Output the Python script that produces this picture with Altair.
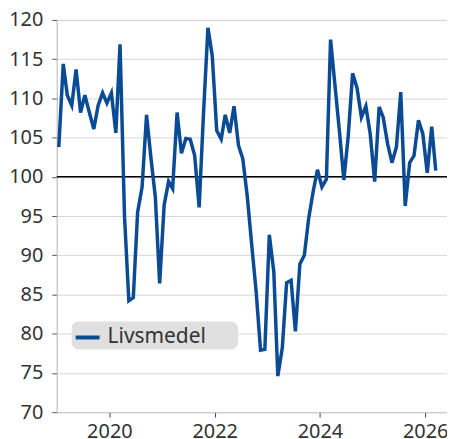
import altair as alt
import pandas as pd

# Monthly values, Jan 2019 .. Mar 2026
values = [
    103.8, 114.4, 110.4, 109.1, 113.7, 108.2, 110.4, 108.2, 106.1, 109.1, 110.7, 109.4,  # 2019
    110.7, 105.6, 116.9, 95.0, 84.2, 84.6, 95.5, 98.7, 107.9, 102.5, 97.4, 86.4,        # 2020
    96.4, 99.4, 98.5, 108.2, 103.0, 104.9, 104.8, 102.7, 96.1, 108.0, 119.0, 115.4,      # 2021
    105.9, 104.8, 107.9, 105.6, 109.0, 104.0, 102.3, 97.5, 91.3, 85.5, 77.9, 78.0,       # 2022
    92.6, 87.9, 74.6, 78.2, 86.5, 86.8, 80.3, 88.9, 90.0, 94.7, 98.1, 100.9,             # 2023
    98.7, 99.7, 117.5, 111.6, 105.9, 99.6, 105.1, 113.2, 111.3, 107.6, 109.0, 105.5,     # 2024
    99.4, 108.9, 107.6, 104.2, 101.8, 103.8, 110.8, 96.3, 101.8, 102.7, 107.2, 105.5,    # 2025
    100.5, 106.4, 100.8,                                                                 # 2026
]
start_year = 2019
series_name = "Livsmedel"
y_ticks = [70, 75, 80, 85, 90, 95, 100, 105, 110, 115, 120]
x_tick_years = [2020, 2022, 2024, 2026]
reference_value = 100

dates = [f"{start_year + i // 12}-{i % 12 + 1:02d}-15" for i in range(len(values))]
df = pd.DataFrame({"date": dates, "value": values, "series": series_name})
ref_df = pd.DataFrame({"y": [reference_value]})

LINE = "#0b4a94"
TXT = "#333333"
FONT = "Noto Sans"

x_scale = alt.Scale(domain=["2019-01-01", "2026-06-01"])
y_scale = alt.Scale(domain=[70, 120], nice=False, zero=False)

y_axis = alt.Axis(values=y_ticks, grid=True, gridColor="#d6d6d6", tickSize=5,
                  labelPadding=9, domainColor="#c8c8c8", tickColor="#555555",
                  labelFontSize=20, labelColor=TXT, labelFont=FONT,
                  labelOverlap=False)

line = alt.Chart(df).mark_line(strokeWidth=3.5, strokeJoin="miter").encode(
    x=alt.X("date:T", scale=x_scale, title=None,
            axis=alt.Axis(values=[f"{y}-01-01" for y in x_tick_years], format="%Y",
                          grid=False, tickSize=5, labelPadding=4, domainColor="#c8c8c8",
                          tickColor="#444444", labelFontSize=20, labelColor=TXT,
                          labelFont=FONT, labelFlush=False, labelOverlap=False)),
    y=alt.Y("value:Q", scale=y_scale, title=None, axis=y_axis),
    color=alt.Color("series:N", scale=alt.Scale(domain=[series_name], range=[LINE]),
                    legend=alt.Legend(title=None, orient="none", legendX=15, legendY=303,
                                      fillColor="#e0e0e0", cornerRadius=7, padding=2,
                                      symbolType="stroke", symbolStrokeWidth=4,
                                      symbolSize=576, labelOffset=6, labelFontSize=21,
                                      labelColor=TXT, labelFont=FONT,
                                      labelExpr="datum.label + '\u2800\u2800'")),
)

rule = alt.Chart(ref_df).mark_rule(color="black", strokeWidth=1.5).encode(
    y=alt.Y("y:Q", scale=y_scale, title=None, axis=y_axis)
)

chart = alt.layer(rule, line).properties(
    width=392, height=394,
    autosize=alt.AutoSizeParams(type="none"),
    padding={"left": 49, "top": 11, "right": 0, "bottom": 30},
).configure_view(stroke="#c8c8c8").configure_axis(labelOverlap=False)

chart.save("out.html", embed_options={"renderer": "svg", "actions": False})
